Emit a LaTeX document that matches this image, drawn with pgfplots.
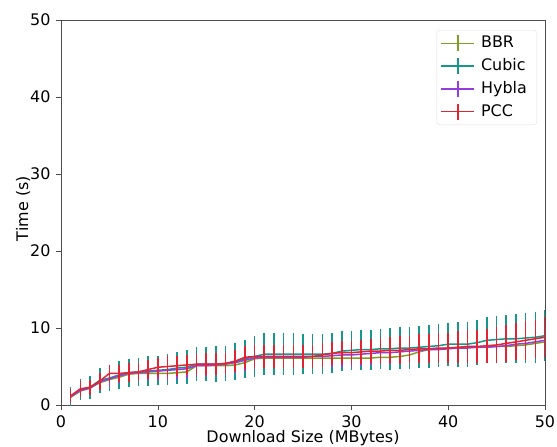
\documentclass[border=0pt]{standalone}
\usepackage{pgfplots}
\pgfplotsset{compat=1.18}
\usepackage{pgfplotstable}
\usepackage{fontspec}
\setmainfont{DejaVu Sans}
\definecolor{cbbr}{RGB}{128,158,38}
\definecolor{ccubic}{RGB}{22,150,140}
\definecolor{chybla}{RGB}{150,60,220}
\definecolor{cpcc}{RGB}{225,35,50}

\pgfplotstableread{
x y e
1 1.0 0.8
2 1.8 0.9
3 2.2 0.9
4 2.9 1.0
5 3.3 1.0
6 3.6 1.0
7 4.0 1.1
8 4.1 1.1
9 4.1 1.1
10 4.1 1.2
11 4.1 1.2
12 4.2 1.2
13 4.3 1.2
14 5.1 1.3
15 5.1 1.3
16 5.1 1.3
17 5.1 1.3
18 5.2 1.3
19 5.5 1.4
20 6.0 1.4
21 6.1 1.4
22 6.1 1.4
23 6.1 1.4
24 6.1 1.4
25 6.1 1.4
26 6.1 1.4
27 6.1 1.4
28 6.1 1.4
29 6.1 1.5
30 6.1 1.5
31 6.1 1.5
32 6.1 1.5
33 6.2 1.5
34 6.2 1.5
35 6.3 1.5
36 6.5 1.6
37 6.9 1.6
38 7.2 1.6
39 7.3 1.6
40 7.4 1.6
41 7.4 1.7
42 7.5 1.7
43 7.5 1.7
44 7.5 1.7
45 7.6 1.8
46 7.6 1.8
47 7.7 1.8
48 7.8 1.8
49 8.0 1.9
50 8.2 1.9
}\bbr

\pgfplotstableread{
x y e
1 1.1 1.2
2 2.0 1.4
3 2.3 1.5
4 3.2 1.6
5 3.5 1.7
6 3.9 1.8
7 4.2 1.8
8 4.3 1.8
9 4.4 1.9
10 4.5 1.9
11 4.6 2.0
12 4.8 2.1
13 4.9 2.2
14 5.3 2.2
15 5.3 2.2
16 5.3 2.3
17 5.4 2.3
18 5.6 2.4
19 6.0 2.5
20 6.3 2.6
21 6.6 2.7
22 6.6 2.7
23 6.6 2.7
24 6.6 2.7
25 6.6 2.6
26 6.6 2.6
27 6.6 2.6
28 6.7 2.6
29 7.0 2.6
30 7.1 2.5
31 7.2 2.6
32 7.2 2.6
33 7.3 2.6
34 7.3 2.7
35 7.4 2.7
36 7.4 2.7
37 7.5 2.7
38 7.6 2.8
39 7.7 2.8
40 7.9 2.8
41 7.9 2.9
42 7.9 2.9
43 8.1 2.9
44 8.4 3.0
45 8.5 3.1
46 8.6 3.1
47 8.6 3.2
48 8.7 3.2
49 8.8 3.3
50 9.0 3.3
}\cubic

\pgfplotstableread{
x y e
1 1.1 0.8
2 1.9 0.9
3 2.2 0.9
4 3.0 1.0
5 3.4 1.0
6 3.8 1.0
7 4.1 1.1
8 4.2 1.1
9 4.3 1.1
10 4.4 1.2
11 4.5 1.2
12 4.6 1.2
13 4.7 1.2
14 5.1 1.3
15 5.1 1.3
16 5.2 1.3
17 5.3 1.3
18 5.5 1.3
19 5.8 1.4
20 6.1 1.4
21 6.2 1.4
22 6.2 1.4
23 6.2 1.4
24 6.2 1.4
25 6.2 1.4
26 6.3 1.4
27 6.3 1.4
28 6.4 1.4
29 6.5 1.5
30 6.5 1.5
31 6.6 1.5
32 6.7 1.5
33 6.8 1.5
34 6.8 1.5
35 6.9 1.5
36 7.0 1.6
37 7.1 1.6
38 7.2 1.6
39 7.2 1.6
40 7.3 1.6
41 7.4 1.7
42 7.4 1.7
43 7.5 1.7
44 7.5 1.7
45 7.6 1.8
46 7.7 1.8
47 7.9 1.8
48 8.0 1.8
49 8.2 1.9
50 8.4 1.9
}\hybla

\pgfplotstableread{
x y e
1 1.2 0.9
2 2.1 1.0
3 2.3 1.0
4 3.1 1.1
5 4.1 1.1
6 4.1 1.1
7 4.2 1.2
8 4.3 1.2
9 4.6 1.2
10 4.9 1.2
11 5.0 1.3
12 5.1 1.3
13 5.2 1.3
14 5.3 1.3
15 5.3 1.4
16 5.3 1.4
17 5.4 1.4
18 5.7 1.4
19 6.2 1.5
20 6.3 1.5
21 6.3 1.5
22 6.3 1.5
23 6.3 1.5
24 6.3 1.5
25 6.3 1.5
26 6.3 1.5
27 6.5 1.5
28 6.7 1.5
29 6.8 1.5
30 6.8 1.5
31 6.9 1.6
32 7.0 1.6
33 7.0 1.7
34 7.1 1.7
35 7.1 1.8
36 7.2 1.8
37 7.3 1.9
38 7.3 1.9
39 7.4 2.0
40 7.4 2.0
41 7.5 2.1
42 7.6 2.1
43 7.6 2.2
44 7.7 2.2
45 7.8 2.3
46 8.0 2.4
47 8.2 2.4
48 8.4 2.5
49 8.6 2.5
50 8.8 2.6
}\pcc

\begin{document}
\fontsize{16}{19}\selectfont
\begin{tikzpicture}
\begin{axis}[
  scale only axis,
  width=484bp, height=385bp,
  xmin=0, xmax=50, ymin=0, ymax=50,
  xtick={0,10,...,50}, ytick={0,10,...,50},
  tick align=outside,
  major tick length=5bp,
  tick pos=left,
  axis line style={draw=black!70},
  every tick/.style={black!70, line width=0.6pt},
  /pgf/number format/assume math mode=true,
  tick label style={font=\fontsize{16}{19}\selectfont},
  label style={font=\fontsize{16}{19}\selectfont},
  xlabel={Download Size (MBytes)},
  ylabel={Time (s)},
  xlabel style={at={(axis description cs:0.5,0)}, anchor=north, inner sep=0pt, yshift=-25bp},
  ylabel style={at={(axis description cs:-0.0785,0.51)}, anchor=center, inner sep=0pt},
  legend cell align=left,
  legend style={at={(rel axis cs:0.9835,0.974)}, anchor=north east,
    draw=black!12, rounded corners=3pt, font=\fontsize{16}{19}\selectfont,
    row sep=4.5pt, inner xsep=4pt, inner ysep=4pt,
    nodes={inner xsep=6pt}},
  legend image code/.code={
    \draw[#1, line width=1.3pt] (0bp,0bp) -- (33bp,0bp);
    \draw[#1, line width=1.3pt] (16.5bp,-8bp) -- (16.5bp,8bp);
  },
  error bars/error mark=none,
]
\addplot+[color=cbbr, line width=1.5pt, mark=none, error bars/.cd, y dir=both, y explicit, error bar style={color=cbbr, line width=1.6pt}]
  table[x=x, y=y, y error=e]{\bbr};
\addlegendentry{BBR}
\addplot+[color=ccubic, line width=1.5pt, mark=none, error bars/.cd, y dir=both, y explicit, error bar style={color=ccubic, line width=1.6pt}]
  table[x=x, y=y, y error=e]{\cubic};
\addlegendentry{Cubic}
\addplot+[color=chybla, line width=1.5pt, mark=none, error bars/.cd, y dir=both, y explicit, error bar style={color=chybla, line width=1.6pt}]
  table[x=x, y=y, y error=e]{\hybla};
\addlegendentry{Hybla}
\addplot+[color=cpcc, line width=1.5pt, mark=none, error bars/.cd, y dir=both, y explicit, error bar style={color=cpcc, line width=1.6pt}]
  table[x=x, y=y, y error=e]{\pcc};
\addlegendentry{PCC}
\end{axis}
\pgfresetboundingbox
\path[use as bounding box] (-61bp,-42bp) rectangle (496bp,405bp);
\end{tikzpicture}
\end{document}
